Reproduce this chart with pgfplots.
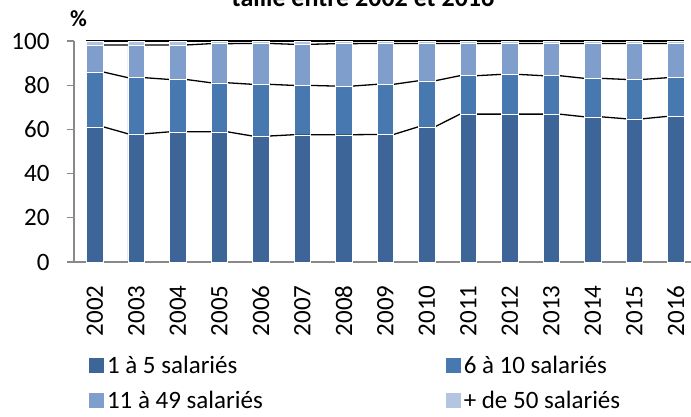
\documentclass[border=0pt]{standalone}
\usepackage{pgfplots}
\pgfplotsset{compat=1.18}
\usepackage{pgfplotstable}
\usepackage{fontspec}
\setmainfont{Carlito}
\definecolor{cA}{HTML}{3D6597}
\definecolor{cB}{HTML}{4778B0}
\definecolor{cC}{HTML}{7F9ECB}
\definecolor{cD}{HTML}{B4C5E1}
\definecolor{axgray}{HTML}{898989}

% segment values (%) per year
\pgfplotstableread{
x  s1   s2   s3   s4
0  61.2 24.8 12.2 1.8
1  58.0 25.4 14.8 1.8
2  58.9 23.7 15.6 1.8
3  58.9 22.2 17.7 1.2
4  57.0 23.4 18.5 1.1
5  57.6 22.3 18.6 1.5
6  57.6 22.0 19.2 1.2
7  57.7 22.7 18.5 1.1
8  61.2 20.8 16.9 1.1
9  66.9 17.4 14.6 1.1
10 66.9 18.0 14.0 1.1
11 66.9 17.4 14.6 1.1
12 65.7 17.4 15.8 1.1
13 64.8 17.8 16.3 1.1
14 65.9 17.5 15.5 1.1
}\bars

% same values, at the left and right edge of each bar (for the series lines)
\pgfplotstableread{
x     s1   s2   s3   s4
-0.2  61.2 24.8 12.2 1.8
0.2   61.2 24.8 12.2 1.8
0.8   58.0 25.4 14.8 1.8
1.2   58.0 25.4 14.8 1.8
1.8   58.9 23.7 15.6 1.8
2.2   58.9 23.7 15.6 1.8
2.8   58.9 22.2 17.7 1.2
3.2   58.9 22.2 17.7 1.2
3.8   57.0 23.4 18.5 1.1
4.2   57.0 23.4 18.5 1.1
4.8   57.6 22.3 18.6 1.5
5.2   57.6 22.3 18.6 1.5
5.8   57.6 22.0 19.2 1.2
6.2   57.6 22.0 19.2 1.2
6.8   57.7 22.7 18.5 1.1
7.2   57.7 22.7 18.5 1.1
7.8   61.2 20.8 16.9 1.1
8.2   61.2 20.8 16.9 1.1
8.8   66.9 17.4 14.6 1.1
9.2   66.9 17.4 14.6 1.1
9.8   66.9 18.0 14.0 1.1
10.2  66.9 18.0 14.0 1.1
10.8  66.9 17.4 14.6 1.1
11.2  66.9 17.4 14.6 1.1
11.8  65.7 17.4 15.8 1.1
12.2  65.7 17.4 15.8 1.1
12.8  64.8 17.8 16.3 1.1
13.2  64.8 17.8 16.3 1.1
13.8  65.9 17.5 15.5 1.1
14.2  65.9 17.5 15.5 1.1
}\lines

\begin{document}
\begin{tikzpicture}
\pgfplotsset{
  base/.style={
    scale only axis, width=622.5pt, height=221pt,
    at={(74pt,154pt)}, anchor=south west,
    xmin=-0.5, xmax=14.5, ymin=0, ymax=100,
  }
}
% series lines (behind the bars)
\begin{axis}[base, hide axis, stack plots=y]
  \addplot[black, line width=1.3pt] table[x=x, y=s1] {\lines};
  \addplot[black, line width=1.3pt] table[x=x, y=s2] {\lines};
  \addplot[black, line width=1.3pt] table[x=x, y=s3] {\lines};
  \addplot[black, line width=1.6pt] table[x=x, y=s4] {\lines};
\end{axis}
% bars
\begin{axis}[base,
  ybar stacked, bar width=16.5pt,
  axis x line*=bottom, axis y line*=left,
  axis line style={axgray, line width=1.5pt, -},
  tick style={axgray, line width=1.3pt},
  tick align=outside,
  ytick={0,20,...,100},
  major tick length=7pt,
  xtick={0,...,14},
  xticklabels={2002,2003,2004,2005,2006,2007,2008,2009,2010,2011,2012,2013,2014,2015,2016},
  x tick style={draw=none},
  minor xtick={-0.5,0.5,...,14.5},
  minor tick length=6pt,
  minor x tick style={axgray, line width=1.3pt},
  /pgf/number format/assume math mode=true,
  ticklabel style={font=\fontsize{25}{30}\selectfont, black},
  xticklabel style={rotate=90, anchor=east},
  xticklabel shift=13pt,
  yticklabel shift=14pt,
  legend columns=2,
  legend cell align=left,
  legend image code/.code={\draw[#1, draw=none] (0pt,-7.5pt) rectangle (15pt,7.5pt);},
  legend style={at={(0.019,-0.406)}, anchor=north west, draw=none, fill=none,
    font=\fontsize{25}{30}\selectfont,
    row sep=12pt,
    nodes={inner xsep=3pt},
    /tikz/column 2/.style={column sep=180pt}},
]
  \addplot[fill=cA, draw=white, line width=0.4pt] table[x=x, y=s1] {\bars};
  \addplot[fill=cB, draw=white, line width=0.4pt] table[x=x, y=s2] {\bars};
  \addplot[fill=cC, draw=white, line width=0.4pt] table[x=x, y=s3] {\bars};
  \addplot[fill=cD, draw=white, line width=0.4pt] table[x=x, y=s4] {\bars};
  \legend{1 à 5 salariés, 6 à 10 salariés, 11 à 49 salariés, + de 50 salariés}
\end{axis}
\node[anchor=base, font=\bfseries\fontsize{26}{30}\selectfont] at (363pt,409pt) {taille entre 2002 et 2016};
\node[anchor=base, font=\bfseries\fontsize{23}{26}\selectfont] at (78.5pt,389pt) {\%};
\pgfresetboundingbox
\path[use as bounding box] (0pt,0pt) rectangle (691pt,416pt);
\end{tikzpicture}
\end{document}
